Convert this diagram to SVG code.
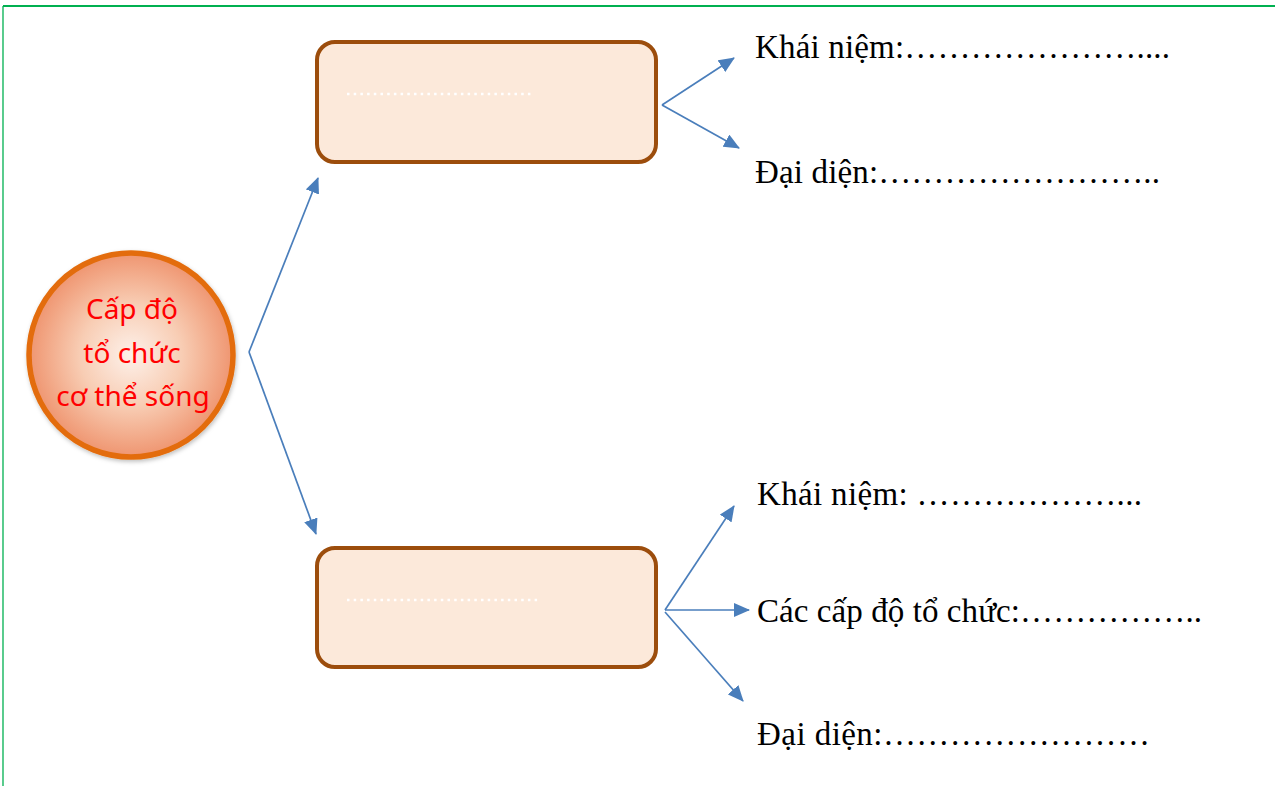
<svg xmlns="http://www.w3.org/2000/svg" width="1275" height="786" viewBox="0 0 1275 786">
<style>
.frame{stroke:#00B050;fill:none}
.box{fill:#FCE9DA;stroke:#9C4D0C;stroke-width:4}
.dots{stroke:#FFFFFF;stroke-width:2.5;stroke-dasharray:2.5 4.2;fill:none}
.conn{stroke:#4A7EBB;stroke-width:1.7;fill:none;marker-end:url(#ah)}
.lbl{font-family:"Liberation Serif","Times New Roman",serif;font-size:33px;fill:#000}
.ctext{font-family:"Noto Sans","Open Sans",sans-serif;font-size:28px;fill:#FF0000;text-anchor:middle}
</style>
<defs>
<radialGradient id="cg" cx="50%" cy="50%" r="50%">
<stop offset="0" stop-color="#FDF1EA"/>
<stop offset="0.5" stop-color="#F8CDB4"/>
<stop offset="1" stop-color="#EF9570"/>
</radialGradient>
<filter id="sh" x="-20%" y="-20%" width="140%" height="140%">
<feDropShadow dx="1" dy="2" stdDeviation="2" flood-color="#000" flood-opacity="0.25"/>
</filter>
<marker id="ah" viewBox="0 0 16 14" refX="15" refY="7" markerWidth="16" markerHeight="14" markerUnits="userSpaceOnUse" orient="auto">
<path d="M0,0 L16,7 L0,14 Z" fill="#4A7EBB"/>
</marker>
</defs>
<g id="frame">
<line class="frame" x1="3" y1="6" x2="1275" y2="6" stroke-width="2"/>
<line class="frame" x1="3" y1="6" x2="3" y2="786" stroke-width="1.3"/>
</g>
<g id="connectors">
<polyline class="conn" points="249,352 318,178"/>
<polyline class="conn" points="249,352 316,534"/>
<polyline class="conn" points="662,105 734,58"/>
<polyline class="conn" points="662,105 739,148"/>
<polyline class="conn" points="665,610 734,506"/>
<polyline class="conn" points="665,610 749,610"/>
<polyline class="conn" points="665,612 743,701"/>
</g>
<g id="center">
<circle cx="131" cy="355" r="102" fill="url(#cg)" stroke="#E36C0A" stroke-width="5.5" filter="url(#sh)"/>
<text class="ctext" x="132" y="319">Cấp độ</text>
<text class="ctext" x="132" y="363">tổ chức</text>
<text class="ctext" x="133" y="406">cơ thể sống</text>
</g>
<g id="box1">
<rect class="box" x="317" y="42" width="339" height="120" rx="18"/>
<line class="dots" x1="347" y1="94" x2="533" y2="94"/>
</g>
<g id="box2">
<rect class="box" x="317" y="548" width="339" height="119" rx="18"/>
<line class="dots" x1="347" y1="600" x2="540" y2="600"/>
</g>
<g id="labels1">
<text class="lbl" x="755" y="58" textLength="415" lengthAdjust="spacing">Khái niệm:&#8230;&#8230;&#8230;&#8230;&#8230;&#8230;&#8230;....</text>
<text class="lbl" x="755" y="183" textLength="405" lengthAdjust="spacing">Đại diện:&#8230;&#8230;&#8230;&#8230;&#8230;&#8230;&#8230;&#8230;..</text>
</g>
<g id="labels2">
<text class="lbl" x="757" y="505" textLength="385" lengthAdjust="spacing">Khái niệm: &#8230;&#8230;&#8230;&#8230;&#8230;&#8230;...</text>
<text class="lbl" x="757" y="622" textLength="445" lengthAdjust="spacing">Các cấp độ tổ chức:&#8230;&#8230;&#8230;&#8230;&#8230;..</text>
<text class="lbl" x="757" y="745" textLength="393" lengthAdjust="spacing">Đại diện:&#8230;&#8230;&#8230;&#8230;&#8230;&#8230;&#8230;&#8230;</text>
</g>
</svg>
